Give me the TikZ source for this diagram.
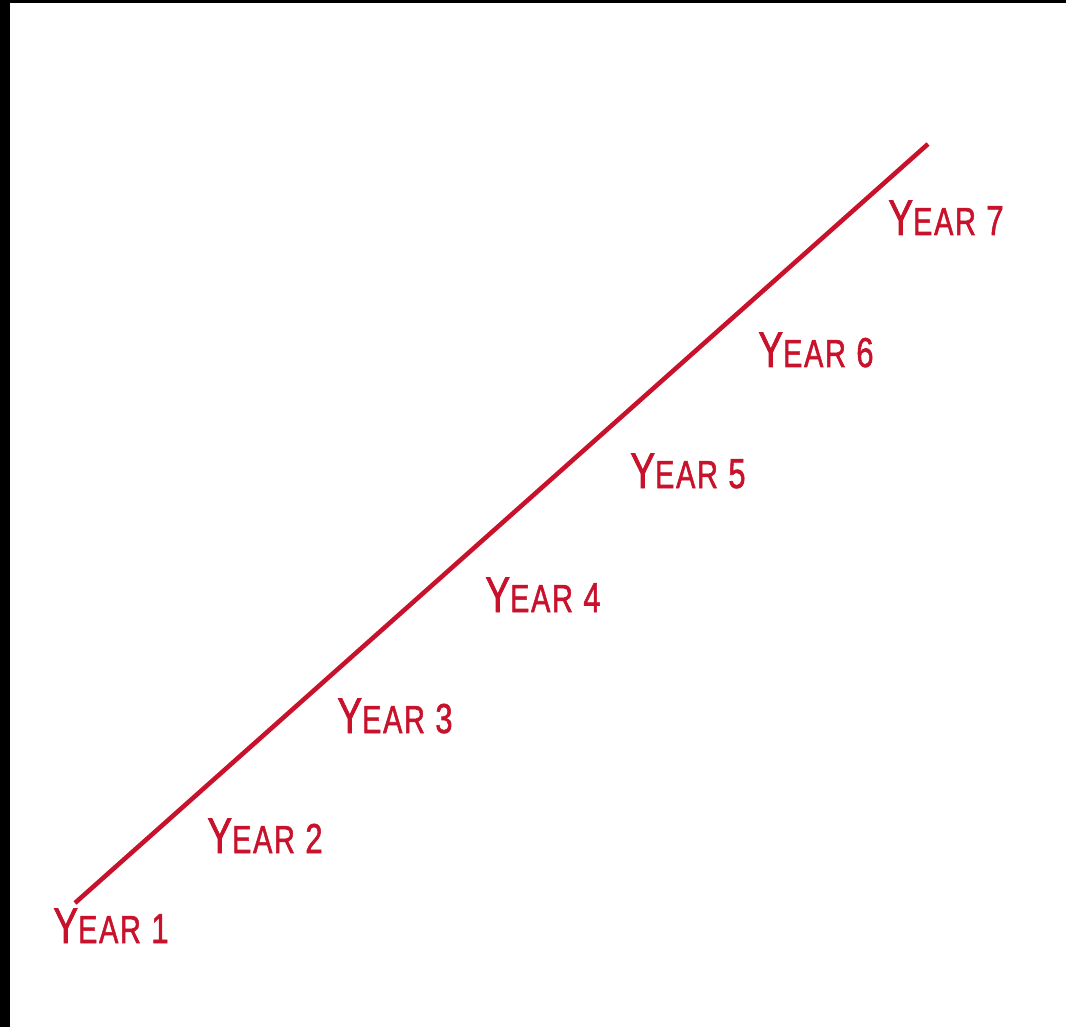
\documentclass[tikz,border=0pt]{standalone}
\usepackage{fontspec}
\setmainfont{Liberation Sans}
\usetikzlibrary{positioning}

\definecolor{yearred}{RGB}{200,18,44}

% small-caps look: big Y, smaller EAR
\newcommand{\yeartext}[1]{\scalebox{0.74}[1]{\addfontfeature{FakeBold=1.6,LetterSpace=6}{\fontsize{28.6}{30}\selectfont Y}{\fontsize{22.2}{24}\selectfont EAR}\hspace{8pt}{\fontsize{23.8}{26}\selectfont #1}}}

\tikzset{
  yearlabel/.style={anchor=base west, inner sep=0pt, text=yearred},
  timeline/.style={yearred, line width=2.6pt}
}

\begin{document}
\begin{tikzpicture}[x=0.02cm, y=-0.02cm]

  % Frame
  \useasboundingbox (0,0) rectangle (1066,1027);
  \fill[white] (0,0) rectangle (1066,1027);
  \fill[black] (0,0) rectangle (1066,3);
  \fill[black] (0,0) rectangle (10,1027);

  % Timeline
  \coordinate (start) at (75,903);
  \coordinate (end) at (928,144);
  \draw[timeline] (start) -- (end);

  % Years
  \node[yearlabel] (year1) at (53,943) {\yeartext{1}};
  \node[yearlabel] (year2) at (207,853) {\yeartext{2}};
  \node[yearlabel] (year3) at (337,733) {\yeartext{3}};
  \node[yearlabel] (year4) at (485,612) {\yeartext{4}};
  \node[yearlabel] (year5) at (630,488) {\yeartext{5}};
  \node[yearlabel] (year6) at (758,367) {\yeartext{6}};
  \node[yearlabel] (year7) at (888,235) {\yeartext{7}};
\end{tikzpicture}
\end{document}
